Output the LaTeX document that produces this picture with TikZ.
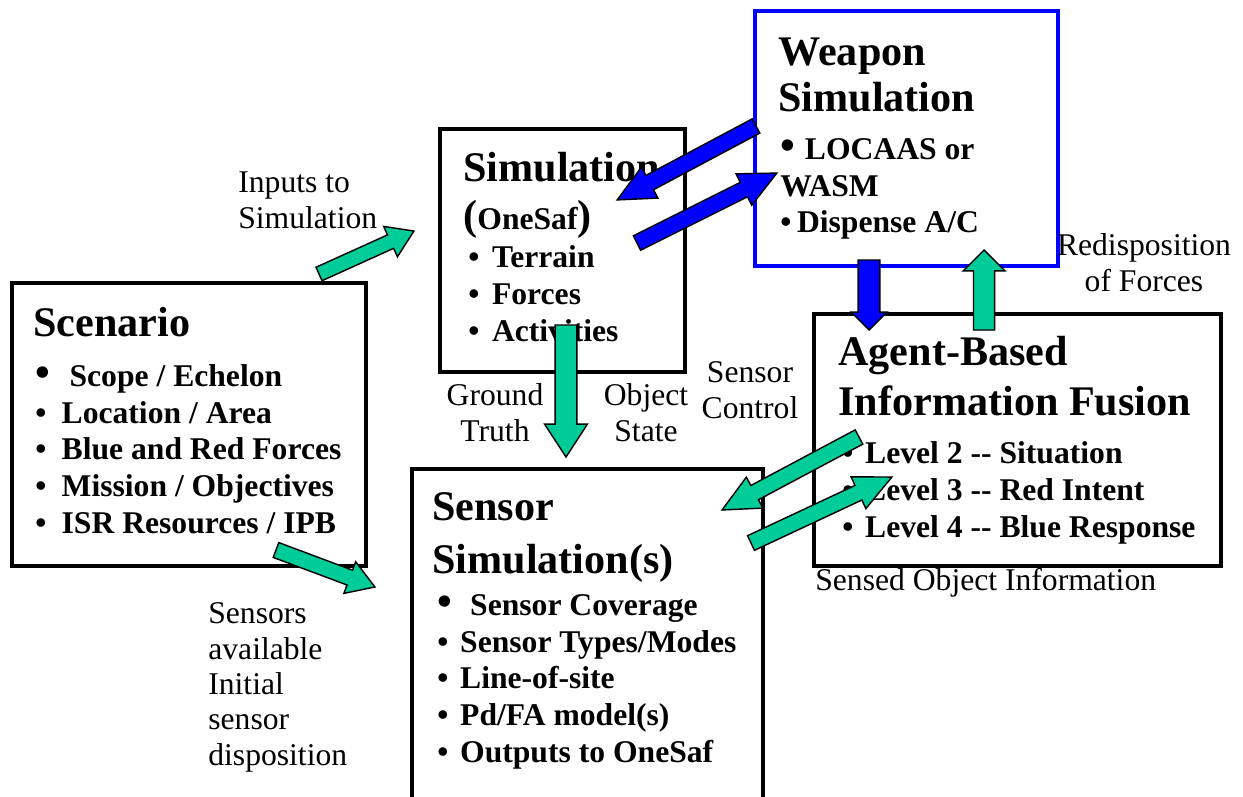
\documentclass[tikz,border=0pt]{standalone}
\usepackage{fontspec}
\setmainfont{Liberation Serif}
\usetikzlibrary{calc,fit}

\definecolor{arrowgreen}{RGB}{0,204,153}
\definecolor{arrowblue}{RGB}{0,0,255}

\tikzset{
  shaftw/.store in=\shafthw, headw/.store in=\headhw, headl/.store in=\headlen,
  shaftw=4.6pt, headw=10pt, headl=21pt,
  blockarrow/.style={draw=black, line width=0.8pt, line join=miter},
  greenarrow/.style={blockarrow, fill=arrowgreen},
  bluearrow/.style={blockarrow, fill=arrowblue},
  box/.style={draw, line width=2.8pt, inner sep=0pt},
  title/.style={font=\fontsize{24}{28}\selectfont\bfseries, align=left, inner sep=0pt, anchor=base west},
  items/.style={font=\fontsize{18}{20.8}\selectfont\bfseries, align=left, inner sep=0pt, anchor=base west},
  note/.style={font=\fontsize{18}{20.1}\selectfont, align=center, inner sep=0pt, anchor=base},
}

\newcommand\bul[1][15pt]{\makebox[#1][l]{\textbullet}}
\newcommand\bigbul[1][19pt]{\makebox[#1][l]{\fontsize{24}{20}\selectfont\textbullet}}

% fat arrow with outline from #2 to #3
\newcommand\blockarrow[3][]{%
  \path let \p1=($(#3)-(#2)$), \n1={atan2(\y1,\x1)}, \n2={veclen(\x1,\y1)} in
    \pgfextra{\xdef\arang{\n1}\xdef\arlen{\n2}};
  \draw[#1, shift={(#2)}, rotate=\arang]
    (0pt,\shafthw) -- (\arlen-\headlen,\shafthw) -- (\arlen-\headlen,\headhw)
    -- (\arlen+0pt,0pt) -- (\arlen-\headlen,-\headhw) -- (\arlen-\headlen,-\shafthw)
    -- (0pt,-\shafthw) -- cycle;
}

\begin{document}
\begin{tikzpicture}[x=0.02cm, y=-0.02cm]
  \useasboundingbox[fill=white] (0,0) rectangle (1243,797);

  % boxes
  \node[box, fit={(12,283) (366,566)}] (scenbox) {};
  \node[box, fit={(440,129) (685,372)}] (simbox) {};
  \node[box, draw=arrowblue, fit={(755,11) (1058,266)}] (wpnbox) {};
  \node[box, fit={(814,314) (1221,566)}] (fusbox) {};
  \node[box, fit={(412,469) (763,830)}] (senbox) {};

  % box texts (multi-line nodes sit on their last baseline)
  \node[title] (scentitle) at (33,336) {Scenario};
  \node[items] (scenitems) at (35,533) {\bigbul[19.5pt]Scope / Echelon\\
    \bul Location / Area\\ \bul Blue and Red Forces\\
    \bul Mission / Objectives\\ \bul ISR Resources / IPB};

  \node[title] (simtitle) at (463,182) {Simulation};
  \node[items] (simsub) at (463,230) {{\fontsize{24}{20}\selectfont(}OneSaf{\fontsize{24}{20}\selectfont)}};
  \node[items] (simitems) at (468,341) {\bul[13.5pt]Terrain\\ \bul[13.5pt]Forces\\ \bul[13.5pt]Activities};

  \node[title] (wpntitle) at (778,112) {Weapon\\[-1.3pt]Simulation};
  \node[items] (wpnitems) at (780,233) {\bigbul[14pt]LOCAAS or\\WASM\\ \bul[9.5pt]Dispense A/C};

  \node[title] (fustitle) at (838,415) {Agent-Based\\Information Fusion};
  \node[items] (fusitems) at (842,537) {\bul[13pt]Level 2 -{}- Situation\\
    \bul[13pt]Level 3 -{}- Red Intent\\ \bul[13pt]Level 4 -{}- Blue Response};

  \node[title] (sentitle) at (432,573) {Sensor\\[2pt]Simulation(s)};
  \node[items] (senitems) at (437,762) {\bigbul[18.7pt]Sensor Coverage\\
    \bul[13pt]Sensor Types/Modes\\ \bul[13pt]Line-of-site\\
    \bul[13pt]Pd/FA model(s)\\ \bul[13pt]Outputs to OneSaf};

  % flow labels
  \node[note, anchor=base west, align=left] (inputslbl) at (238,228) {Inputs to\\Simulation};
  \node[note] (truthlbl) at (495,441) {Ground\\Truth};
  \node[note] (statelbl) at (646,441) {Object\\State};
  \node[note] (ctrllbl) at (750,418) {Sensor\\Control};
  \node[note] (redisplbl) at (1144,291) {Redisposition\\of Forces};
  \node[note, anchor=base west] (sensedlbl) at (815,590) {Sensed Object Information};
  \node[note, anchor=base west, align=left] (availlbl) at (208,765) {Sensors\\available\\Initial\\sensor\\disposition};

  % arrow ends
  \coordinate (inputs0) at (319,274);  \coordinate (inputs1) at (414,231);
  \coordinate (sensors0) at (276,550); \coordinate (sensors1) at (375,587);
  \coordinate (truth0) at (566,325);   \coordinate (truth1) at (566,457);
  \coordinate (wpn2sim0) at (756,126); \coordinate (wpn2sim1) at (617,200);
  \coordinate (sim2wpn0) at (637,243); \coordinate (sim2wpn1) at (777,173);
  \coordinate (wpn2fus0) at (869,260); \coordinate (wpn2fus1) at (869,330);
  \coordinate (redisp0) at (984,330);  \coordinate (redisp1) at (984,250);
  \coordinate (fus2sen0) at (859,437); \coordinate (fus2sen1) at (722,510);
  \coordinate (sen2fus0) at (751,543); \coordinate (sen2fus1) at (892,477);

  % arrows
  \blockarrow[greenarrow, shaftw=4.2pt, headw=9.5pt, headl=14.6pt]{inputs0}{inputs1}
  \blockarrow[greenarrow, shaftw=4.5pt, headw=9.6pt, headl=15.3pt]{sensors0}{sensors1}
  \blockarrow[greenarrow, shaftw=6.2pt, headw=12.2pt, headl=18.7pt]{truth0}{truth1}
  \blockarrow[bluearrow]{wpn2sim0}{wpn2sim1}
  \blockarrow[bluearrow]{sim2wpn0}{sim2wpn1}
  \blockarrow[bluearrow, shaftw=6.2pt, headw=10.2pt, headl=10.2pt]{wpn2fus0}{wpn2fus1}
  \blockarrow[greenarrow, shaftw=6pt, headw=11.9pt, headl=11.9pt]{redisp0}{redisp1}
  \blockarrow[greenarrow]{fus2sen0}{fus2sen1}
  \blockarrow[greenarrow]{sen2fus0}{sen2fus1}
\end{tikzpicture}
\end{document}
